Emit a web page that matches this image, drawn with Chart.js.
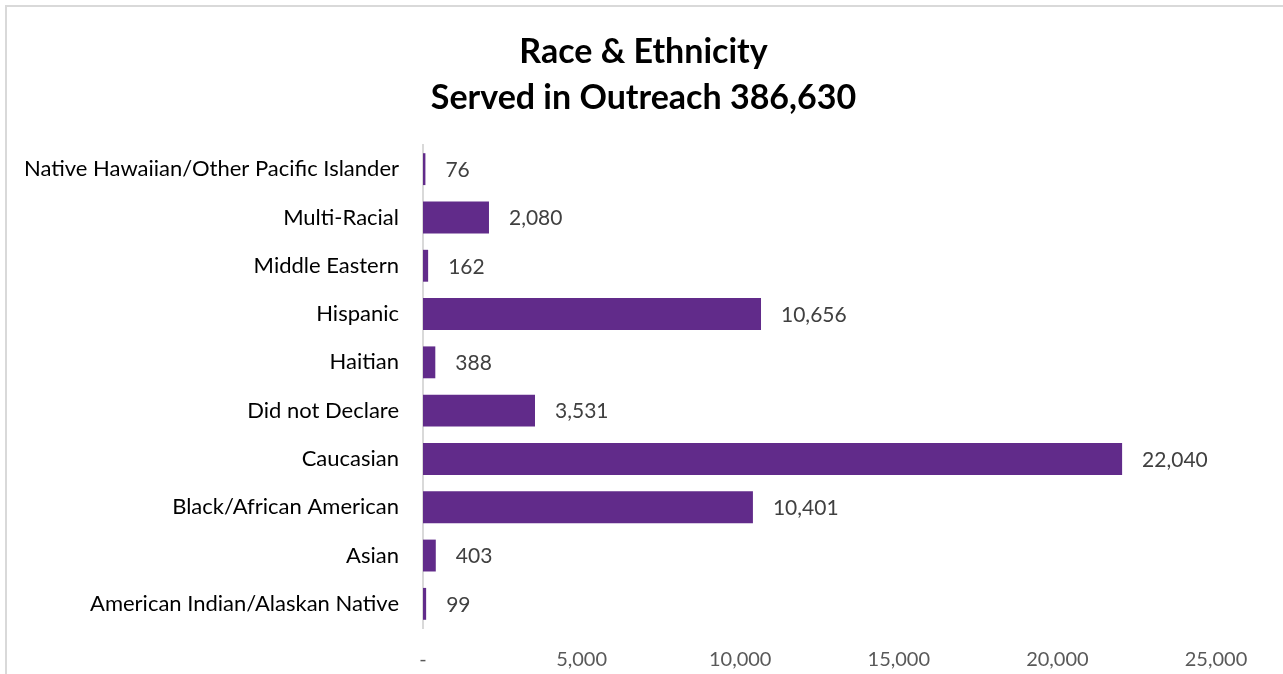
<!DOCTYPE html>
<html>
<head>
<meta charset="utf-8">
<script src="https://cdn.jsdelivr.net/npm/chart.js@4"></script>
<style>
  body { margin: 0; background: #fff; overflow: hidden; }
  #frame { position: absolute; left: 5px; top: 5px; width: 1300px; height: 700px; border: 2px solid #d9d9d9; }
  #wrap { position: absolute; left: 0; top: 0; width: 1283px; height: 674px; }
</style>
</head>
<body>
<div id="frame"></div>
<div id="wrap"><canvas id="chart"></canvas></div>
<script>
// Categories (top to bottom as shown)
var categories = [
  'Native Hawaiian/Other Pacific Islander',
  'Multi-Racial',
  'Middle Eastern',
  'Hispanic',
  'Haitian',
  'Did not Declare',
  'Caucasian',
  'Black/African American',
  'Asian',
  'American Indian/Alaskan Native'
];
var servedValues = [76, 2080, 162, 10656, 388, 3531, 22040, 10401, 403, 99];
var titleLines = ['Race & Ethnicity', 'Served in Outreach 386,630'];
var xTickMax = 25000;
var xTickStep = 5000;

var fontFamily = "Lato, 'Open Sans', sans-serif";

// titulo centrado sobre todo el lienzo
var centeredTitle = {
  id: 'centeredTitle',
  afterDraw: function (chart) {
    var ctx = chart.ctx;
    ctx.save();
    ctx.font = 'bold 34px ' + fontFamily;
    ctx.fillStyle = '#000';
    ctx.textAlign = 'center';
    ctx.textBaseline = 'middle';
    titleLines.forEach(function (line, i) {
      ctx.fillText(line, chart.width / 2 + 2, 52 + i * 46);
    });
    ctx.restore();
  }
};

// dibuja los valores al final de cada barra
var valueLabels = {
  id: 'valueLabels',
  afterDatasetsDraw: function (chart) {
    var ctx = chart.ctx;
    var meta = chart.getDatasetMeta(0);
    ctx.save();
    ctx.font = '21px ' + fontFamily;
    ctx.fillStyle = '#404040';
    ctx.textBaseline = 'middle';
    ctx.textAlign = 'left';
    meta.data.forEach(function (bar, i) {
      ctx.fillText(servedValues[i].toLocaleString('en-US'), bar.x + 20, bar.y + 1);
    });
    ctx.restore();
  }
};

var ctx = document.getElementById('chart').getContext('2d');
var myChart = new Chart(ctx, {
  type: 'bar',
  data: {
    labels: categories,
    datasets: [{
      data: servedValues,
      backgroundColor: '#612b8a',
      borderWidth: 0,
      barPercentage: 0.66,
      categoryPercentage: 1
    }]
  },
  options: {
    indexAxis: 'y',
    responsive: true,
    maintainAspectRatio: false,
    animation: false,
    layout: { padding: { left: 0, right: 67, top: 145, bottom: 0 } },
    plugins: {
      legend: { display: false },
      tooltip: { enabled: false },
      title: { display: false }
    },
    scales: {
      x: {
        min: 0,
        max: xTickMax,
        grid: { display: false },
        border: { display: false },
        ticks: {
          stepSize: xTickStep,
          color: '#595959',
          font: { family: fontFamily, size: 20 },
          padding: 12,
          maxRotation: 0,
          callback: function (v) { return v === 0 ? '-' : v.toLocaleString('en-US'); }
        },
        afterFit: function (scale) { scale.height = 46; }
      },
      y: {
        grid: { display: false },
        border: { display: true, color: '#d9d9d9', width: 2 },
        ticks: {
          color: '#000',
          font: { family: fontFamily, size: 22 },
          padding: 16
        },
        afterFit: function (scale) { scale.width = 423; }
      }
    }
  },
  plugins: [valueLabels, centeredTitle]
});
</script>
</body>
</html>
